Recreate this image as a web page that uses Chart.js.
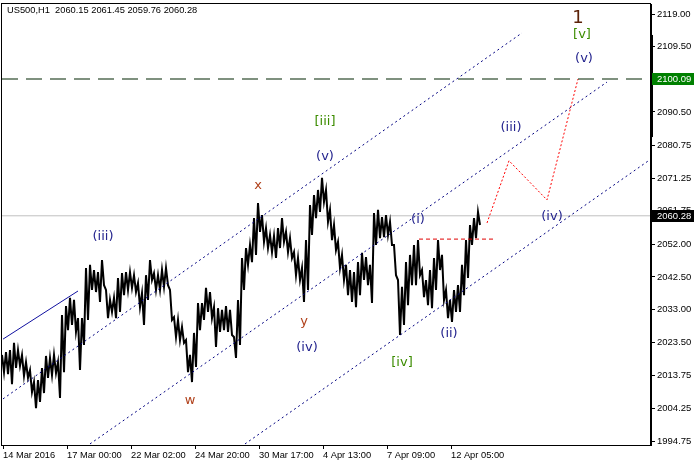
<!DOCTYPE html>
<html>
<head>
<meta charset="utf-8">
<script src="https://cdn.jsdelivr.net/npm/chart.js@4.4.1/dist/chart.umd.min.js"></script>
<style>
  html, body { margin: 0; padding: 0; background: #fff; }
  canvas { display: block; }
</style>
</head>
<body>
<canvas id="chart" width="694" height="466"></canvas>
<script>
// ── DATA ──────────────────────────────────────────────────
// US500 H1, one high/low pair for every 4 hourly bars
const priceHigh = [
  2019.8, 2020.6, 2021.2, 2023.3, 2021.2, 2019.8, 2017.7, 2015.4, 2011.9, 2012.5,
  2016.0, 2019.5, 2018.9, 2019.8, 2017.7, 2031.4, 2034.0, 2036.4, 2035.8, 2030.5,
  2030.5, 2045.1, 2046.0, 2044.5, 2043.9, 2047.4, 2038.7, 2035.8, 2036.4, 2042.2,
  2043.6, 2043.9, 2043.9, 2043.0, 2040.7, 2037.8, 2043.0, 2047.4, 2043.6, 2043.0,
  2044.5, 2045.1, 2038.7, 2030.8, 2030.0, 2027.9, 2024.1, 2019.8, 2026.2, 2034.9,
  2034.9, 2039.3, 2038.1, 2033.7, 2033.4, 2032.9, 2034.0, 2032.9, 2025.0, 2035.8,
  2048.0, 2050.9, 2051.8, 2059.6, 2064.0, 2060.5, 2056.7, 2054.7, 2054.4, 2056.7,
  2059.6, 2055.6, 2053.8, 2049.7, 2048.0, 2045.1, 2053.2, 2063.4, 2066.3, 2067.8,
  2071.3, 2067.8, 2062.0, 2057.6, 2052.7, 2048.9, 2046.0, 2044.5, 2043.9, 2046.8,
  2049.5, 2048.3, 2046.0, 2061.1, 2062.0, 2059.9, 2060.5, 2058.5, 2051.8, 2041.6,
  2039.6, 2046.8, 2048.9, 2051.8, 2053.2, 2044.5, 2041.6, 2044.5, 2048.0, 2053.2,
  2048.9, 2038.7, 2035.8, 2038.7, 2040.1, 2046.0, 2053.2, 2057.6, 2059.6, 2061.4
];
const priceLow = [
  2014.8, 2014.2, 2011.3, 2016.0, 2016.6, 2013.7, 2013.1, 2009.0, 2004.3, 2006.1,
  2008.7, 2013.1, 2013.9, 2014.5, 2007.3, 2014.8, 2027.0, 2028.5, 2026.5, 2015.4,
  2022.7, 2030.0, 2038.7, 2038.1, 2035.2, 2040.1, 2030.5, 2032.3, 2030.5, 2032.3,
  2037.2, 2038.7, 2039.3, 2038.1, 2033.7, 2028.5, 2035.8, 2041.6, 2038.7, 2038.7,
  2039.6, 2040.1, 2030.0, 2025.0, 2024.1, 2023.3, 2014.8, 2011.9, 2016.3, 2027.0,
  2030.0, 2032.3, 2030.5, 2022.1, 2026.5, 2027.0, 2026.5, 2025.6, 2018.9, 2022.7,
  2038.7, 2046.0, 2046.8, 2048.9, 2055.6, 2052.7, 2050.9, 2049.7, 2048.0, 2050.9,
  2052.7, 2049.7, 2048.0, 2043.0, 2041.6, 2035.2, 2038.7, 2054.7, 2059.6, 2061.4,
  2064.3, 2058.5, 2053.2, 2050.3, 2045.1, 2041.6, 2037.2, 2035.2, 2033.7, 2037.2,
  2041.6, 2040.1, 2034.9, 2051.8, 2053.8, 2054.1, 2054.7, 2051.8, 2043.0, 2025.6,
  2028.5, 2034.3, 2040.1, 2040.1, 2043.0, 2036.6, 2034.3, 2033.4, 2038.7, 2044.5,
  2035.8, 2030.5, 2029.4, 2032.3, 2032.3, 2037.2, 2042.2, 2051.8, 2053.8, 2057.6
];
const barsPerColumn = 4;

const xTickBars   = [1, 65, 129, 193, 257, 321, 385, 449];
const xTickLabels = ['14 Mar 2016', '17 Mar 00:00', '22 Mar 02:00', '24 Mar 20:00',
                     '30 Mar 17:00', '4 Apr 13:00', '7 Apr 09:00', '12 Apr 05:00'];
const yTicks = [2119.00, 2109.50, 2100.00, 2090.50, 2080.75, 2071.25, 2061.75,
                2052.00, 2042.50, 2033.00, 2023.50, 2013.75, 2004.25, 1994.75];

const quote = { symbol: 'US500,H1', open: 2060.15, high: 2061.45, low: 2059.76, close: 2060.28 };
const targetLevel = 2100.09;
const scrollTop = 2112.9, scrollBottom = 2083.2;

// channel lines: [startBar, endBar], [startPrice, endPrice]
const channelBars   = [[1, 520], [88, 605], [243, 646]];
const channelPrices = [[2007.0, 2113.5], [1993.9, 2099.2], [1993.9, 2076.2]];
const trendBars   = [1, 76];
const trendPrices = [2024.4, 2038.4];

// projected path and breakout level
const projBars   = [485, 507, 545, 576];
const projPrices = [2058.2, 2076.3, 2064.9, 2100.09];
const breakBars  = [417, 493];
const breakLevel = 2053.5;

// wave counts
const waveLabels = ['1', '[v]', '(v)', '(iii)', '(iv)', '(i)', '(ii)', '[iv]', '[iii]', '(v)', 'x', 'y', '(iv)', 'w', '(iii)'];
const waveBars   = [576, 580, 582, 509, 550, 416, 447, 400, 323, 323, 256, 302, 305, 188, 101];
const wavePrices = [2117.8, 2112.9, 2105.9, 2085.8, 2059.9, 2059.3, 2025.9, 2017.7, 2087.6, 2077.4, 2069.2, 2029.4, 2021.8, 2006.4, 2054.1];
const waveDegree = ['cycle', 'minor', 'minute', 'minute', 'minute', 'minute', 'minute', 'minor', 'minor', 'minute', 'corr', 'corr', 'minute', 'corr', 'minute'];

// ── STYLES ────────────────────────────────────────────────
const waveStyle = {
  cycle:  { font: '18px "DejaVu Sans"', color: '#5c2208' },
  minor:  { font: '13px "DejaVu Sans"', color: '#3c8c00' },
  minute: { font: '13px "DejaVu Sans"', color: '#24248e' },
  corr:   { font: '13px "DejaVu Sans"', color: '#b0401a' }
};
const AXIS_FONT = '"Liberation Sans", Arial, sans-serif';

// ── BUILD DATASETS ────────────────────────────────────────
function pricePath() {
  const pts = [];
  priceHigh.forEach((h, k) => {
    pts.push({ x: k * barsPerColumn, y: h });
    pts.push({ x: k * barsPerColumn + barsPerColumn / 2, y: priceLow[k] });
  });
  return pts;
}

function seg(bars, prices) {
  return bars.map((b, i) => ({ x: b, y: prices[i] }));
}

const lineBase = { pointRadius: 0, borderWidth: 1, tension: 0, fill: false };

const datasets = [
  { ...lineBase, data: pricePath(), borderColor: '#000', borderWidth: 2, order: 5 },
  { ...lineBase, data: [{ x: 0, y: quote.close }, { x: 649, y: quote.close }], borderColor: '#c0c0c0', order: 9 },
  { ...lineBase, data: [{ x: 0, y: targetLevel }, { x: 649, y: targetLevel }], borderColor: '#002400', borderWidth: 1.2, borderDash: [16, 8], order: 1 },
  { ...lineBase, data: seg(trendBars, trendPrices), borderColor: '#1010a0', order: 1 },
  { ...lineBase, data: seg(breakBars, [breakLevel, breakLevel]), borderColor: '#e00000', borderDash: [4, 3], order: 1 },
  { ...lineBase, data: seg(projBars, projPrices), borderColor: '#ff0000', borderDash: [2, 2], order: 1 },
  ...channelBars.map((b, i) => ({
    ...lineBase, data: seg(b, channelPrices[i]), borderColor: '#000080', borderDash: [2, 3], order: 1
  }))
];

// ── DECORATION PLUGIN ─────────────────────────────────────
const terminalDecor = {
  id: 'terminalDecor',
  afterDatasetsDraw(chart) {
    const { ctx, scales: { x, y } } = chart;
    ctx.save();
    ctx.textAlign = 'center';
    ctx.textBaseline = 'middle';
    waveLabels.forEach((t, i) => {
      const st = waveStyle[waveDegree[i]];
      ctx.font = st.font;
      ctx.fillStyle = st.color;
      ctx.fillText(t, x.getPixelForValue(waveBars[i]), y.getPixelForValue(wavePrices[i]));
    });
    ctx.restore();
  },
  afterDraw(chart) {
    const { ctx, chartArea: a, scales: { y } } = chart;
    ctx.save();
    // frame
    ctx.strokeStyle = '#000';
    ctx.lineWidth = 1;
    ctx.strokeRect(a.left - 0.5, a.top - 0.5, a.right - a.left, a.bottom - a.top + 1);
    // title
    ctx.font = '9.3px ' + AXIS_FONT;
    ctx.fillStyle = '#000';
    ctx.textAlign = 'left';
    ctx.textBaseline = 'middle';
    ctx.fillText(`${quote.symbol}  ${quote.open.toFixed(2)} ${quote.high.toFixed(2)} ${quote.low.toFixed(2)} ${quote.close.toFixed(2)}`, 7, 10);
    // scroll marker on price axis
    const st = y.getPixelForValue(scrollTop), sb = y.getPixelForValue(scrollBottom);
    ctx.fillStyle = '#000';
    ctx.fillRect(a.right - 1, st, 3, sb - st);
    // price boxes
    const box = (v, bg) => {
      const py = Math.round(y.getPixelForValue(v));
      ctx.fillStyle = bg;
      ctx.fillRect(a.right + 1, py - 6, 694 - a.right - 1, 12);
      ctx.fillStyle = '#fff';
      ctx.font = '9.5px ' + AXIS_FONT;
      ctx.fillText(v.toFixed(2), a.right + 6, py);
    };
    box(targetLevel, '#008000');
    box(quote.close, '#000');
    ctx.restore();
  }
};

// ── CHART ─────────────────────────────────────────────────
new Chart(document.getElementById('chart').getContext('2d'), {
  type: 'line',
  data: { datasets },
  options: {
    responsive: false,
    animation: false,
    layout: { padding: { left: 2, top: 4, right: 0, bottom: 0 } },
    plugins: { legend: { display: false }, tooltip: { enabled: false } },
    scales: {
      x: {
        type: 'linear', min: 0, max: 649,
        afterBuildTicks: s => { s.ticks = xTickBars.map(v => ({ value: v })); },
        afterFit: s => { s.height = 21; s.paddingLeft = 0; s.paddingRight = 0; },
        grid: { drawOnChartArea: false, tickLength: 4, color: '#000' },
        border: { color: '#000' },
        ticks: {
          align: 'start', autoSkip: false, maxRotation: 0, padding: 1, color: '#000',
          font: { family: AXIS_FONT, size: 9.3 },
          callback: (v, i) => xTickLabels[i]
        }
      },
      y: {
        position: 'right', min: 1993.59, max: 2121.91,
        afterBuildTicks: s => { s.ticks = yTicks.map(v => ({ value: v })); },
        afterFit: s => { s.width = 43; s.paddingTop = 0; s.paddingBottom = 0; },
        grid: { drawOnChartArea: false, tickLength: 4, color: '#000' },
        border: { color: '#000' },
        ticks: {
          autoSkip: false, padding: 2, color: '#000',
          font: { family: AXIS_FONT, size: 9.5 },
          callback: v => v.toFixed(2)
        }
      }
    }
  },
  plugins: [terminalDecor]
});
</script>
</body>
</html>
